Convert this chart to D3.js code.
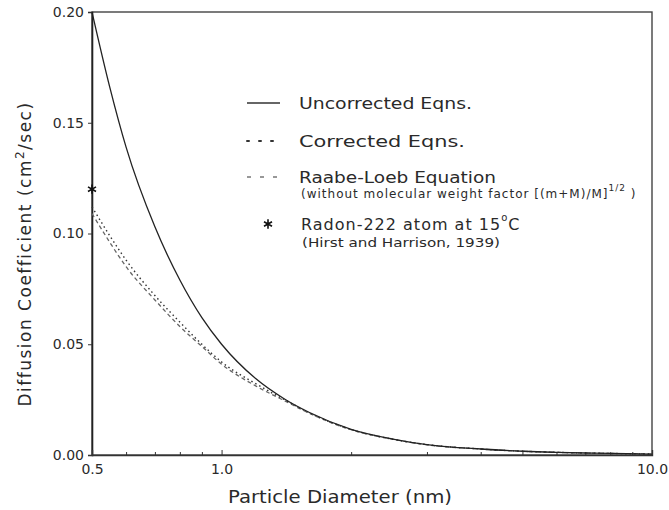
<!DOCTYPE html>
<html>
<head>
<meta charset="utf-8">
<script src="https://cdn.jsdelivr.net/npm/d3@7"></script>
<style>
  body { margin: 0; background: #fff; }
  svg text { font-family: "DejaVu Sans", sans-serif; fill: #2a2a2a; }
</style>
</head>
<body>
<svg id="chart" width="669" height="510"></svg>
<script>
// particle diameter (nm) and diffusion coefficient (cm2/sec)
const diam        = [0.5, 0.55, 0.6, 0.7, 0.8, 0.9, 1.0, 1.2, 1.4, 1.6, 2.0, 2.5, 3.0, 4.0, 5.0, 6.0, 7.0, 8.0, 10.0];
const uncorrected = [0.200, 0.166, 0.139, 0.103, 0.079, 0.062, 0.050, 0.0345, 0.0253, 0.0192, 0.0116, 0.0072, 0.0047, 0.0027, 0.0017, 0.0012, 0.0009, 0.0007, 0.0004];
const corrected   = [0.112, 0.099, 0.088, 0.072, 0.060, 0.050, 0.042, 0.0322, 0.0250, 0.0190, 0.0115, 0.0071, 0.0047, 0.0027, 0.0017, 0.0012, 0.0009, 0.0007, 0.0004];
const raabeLoeb   = [0.109, 0.096, 0.085, 0.070, 0.058, 0.049, 0.041, 0.0312, 0.0245, 0.0188, 0.0114, 0.0071, 0.0046, 0.0027, 0.0017, 0.0012, 0.0009, 0.0007, 0.0004];
const radonPoint  = [{d: 0.5, D: 0.12}];

const yTicks = [0, 0.05, 0.10, 0.15, 0.20];
const xMinor = [0.6, 0.7, 0.8, 0.9, 2, 3, 4, 5, 6, 7, 8, 9];
const xMajor = [0.5, 1.0, 10.0];

const svg = d3.select("#chart");
const margin = {left: 92, right: 17, top: 12, bottom: 55};
const width = 669 - margin.left - margin.right;
const height = 510 - margin.top - margin.bottom;

const g = svg.append("g").attr("transform", `translate(${margin.left},${margin.top})`);

const x = d3.scaleLog().domain([0.5, 10]).range([0, width]);
const y = d3.scaleLinear().domain([0, 0.2]).range([height, 0]);

// frame
g.append("rect")
    .attr("width", width).attr("height", height)
    .attr("fill", "none").attr("stroke", "#444").attr("stroke-width", 1.4);

// y axis
const yAxis = g.append("g")
    .call(d3.axisLeft(y).tickValues(yTicks).tickSize(4).tickPadding(4).tickFormat(d3.format(".2f")));
yAxis.select(".domain").attr("stroke", "#222").attr("stroke-width", 1.6);
yAxis.selectAll(".tick line").attr("stroke", "#333");
yAxis.selectAll(".tick text").style("font-size", "14px").attr("fill", "#333");

// x axis: minor + major ticks pointing inward
const xAxisMinor = g.append("g").attr("transform", `translate(0,${height})`)
    .call(d3.axisBottom(x).tickValues(xMinor).tickSize(-3).tickFormat(""));
xAxisMinor.select(".domain").remove();
xAxisMinor.selectAll(".tick line").attr("stroke", "#333");

const xAxis = g.append("g").attr("transform", `translate(0,${height})`)
    .call(d3.axisBottom(x).tickValues(xMajor).tickSize(-5).tickPadding(9).tickFormat(d3.format(".1f")));
xAxis.select(".domain").attr("stroke", "#333").attr("stroke-width", 1.4);
xAxis.selectAll(".tick line").attr("stroke", "#333");
xAxis.selectAll(".tick text").style("font-size", "14px").attr("fill", "#333");

// axis titles
svg.append("text")
    .attr("x", 340).attr("y", 503)
    .attr("text-anchor", "middle")
    .attr("textLength", 224).attr("lengthAdjust", "spacingAndGlyphs")
    .style("font-size", "17px")
    .text("Particle Diameter (nm)");

const yt = svg.append("text")
    .attr("transform", "translate(31,254) rotate(-90)")
    .attr("text-anchor", "middle")
    .style("font-size", "17px")
    .style("letter-spacing", "1.5px");
yt.append("tspan").text("Diffusion Coefficient (cm");
yt.append("tspan").attr("dy", -7).style("font-size", "12px").text("2");
yt.append("tspan").attr("dy", 7).text("/sec)");

// curves
const line = (vals) => d3.line()
    .x((d, i) => x(diam[i]))
    .y(d => y(d))
    .curve(d3.curveMonotoneX)(vals);

g.append("path").attr("d", line(raabeLoeb))
    .attr("fill", "none").attr("stroke", "#666").attr("stroke-width", 1.3)
    .attr("stroke-dasharray", "4,3");
g.append("path").attr("d", line(corrected))
    .attr("fill", "none").attr("stroke", "#333").attr("stroke-width", 1.4)
    .attr("stroke-dasharray", "1.5,3");
g.append("path").attr("d", line(uncorrected))
    .attr("fill", "none").attr("stroke", "#222").attr("stroke-width", 1.3);

// radon-222 point
const star = d3.symbol().type(d3.symbolAsterisk).size(60);
g.selectAll("path.radon")
    .data(radonPoint)
    .enter().append("path")
    .attr("class", "radon")
    .attr("d", star)
    .attr("transform", d => `translate(${x(d.d)},${y(d.D)})`)
    .attr("fill", "none").attr("stroke", "#111").attr("stroke-width", 1.6);

// legend
const lg = svg.append("g");
lg.append("line").attr("x1", 247).attr("x2", 280).attr("y1", 103).attr("y2", 103)
    .attr("stroke", "#333").attr("stroke-width", 1.3);
lg.append("text").attr("x", 299).attr("y", 109).style("font-size", "16px")
    .attr("textLength", 173).attr("lengthAdjust", "spacingAndGlyphs").text("Uncorrected Eqns.");

lg.append("line").attr("x1", 247).attr("x2", 280).attr("y1", 141).attr("y2", 141)
    .attr("stroke", "#333").attr("stroke-width", 2).attr("stroke-dasharray", "2,10")
    .attr("stroke-linecap", "round");
lg.append("text").attr("x", 299).attr("y", 147).style("font-size", "16px")
    .attr("textLength", 166).attr("lengthAdjust", "spacingAndGlyphs").text("Corrected Eqns.");

lg.append("line").attr("x1", 247).attr("x2", 280).attr("y1", 177).attr("y2", 177)
    .attr("stroke", "#777").attr("stroke-width", 1.3).attr("stroke-dasharray", "4,9");
lg.append("text").attr("x", 299).attr("y", 183).style("font-size", "16px")
    .attr("textLength", 197).attr("lengthAdjust", "spacingAndGlyphs").text("Raabe-Loeb Equation");

const sub = lg.append("text").attr("x", 301).attr("y", 198)
    .style("font-size", "12px").style("letter-spacing", "1px");
sub.append("tspan").text("(without molecular weight factor [(m+M)/M]");
sub.append("tspan").attr("dy", -7).style("font-size", "9px").text("1/2");
sub.append("tspan").attr("dy", 7).text(" )");

lg.append("path").attr("d", star)
    .attr("transform", "translate(268,224)")
    .attr("fill", "none").attr("stroke", "#111").attr("stroke-width", 1.6);
const rt = lg.append("text").attr("x", 301).attr("y", 230)
    .style("font-size", "16px").style("letter-spacing", "1px");
rt.append("tspan").text("Radon-222 atom at 15");
rt.append("tspan").attr("dy", -9).style("font-size", "10px").text("o");
rt.append("tspan").attr("dy", 9).text("C");

lg.append("text").attr("x", 302).attr("y", 247).style("font-size", "12px")
    .attr("textLength", 198).attr("lengthAdjust", "spacingAndGlyphs")
    .text("(Hirst and Harrison, 1939)");
</script>
</body>
</html>
